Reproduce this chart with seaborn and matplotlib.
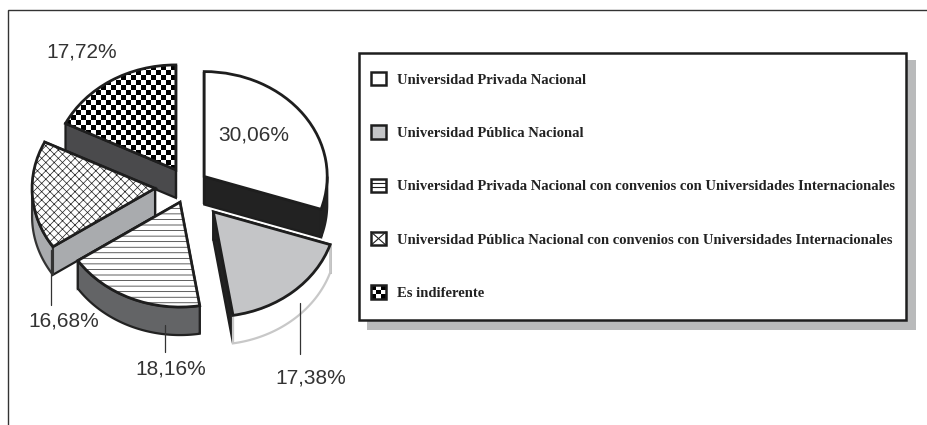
import numpy as np
import matplotlib
matplotlib.use("Agg")
import matplotlib.pyplot as plt
from matplotlib.lines import Line2D
from matplotlib.patches import Patch, Polygon, Rectangle
from matplotlib.legend_handler import HandlerBase
import seaborn as sns

categories = [
    "Universidad Privada Nacional",
    "Universidad Pública Nacional",
    "Universidad Privada Nacional con convenios con Universidades Internacionales",
    "Universidad Pública Nacional con convenios con Universidades Internacionales",
    "Es indiferente",
]
values = [30.06, 17.38, 18.16, 16.68, 17.72]
explode = [20, 39, 20, 33, 23]

face_colors = ["#ffffff", "#c4c5c7", "#ffffff", "#ffffff", "#ffffff"]
hatches = [None, None, "---", "xxxx", None]
swatch_kinds = ["plain", "plain", "lines", "cross", "checker"]
face_colors_side = ["#222222", "#222222", "#636466", "#a9abae", "#4a4a4c"]
arc_colors = ["#222222", "#ffffff", "#636466", "#a9abae", "#4a4a4c"]
arc_edges = ["#222222", "#c8c8c8", "#222222", "#333333", "#222222"]
draw_order = [50, 40, 30, 20, 10]

W, H = 927, 425
tilt = 0.853
radius = 123
depth = 28 / tilt
dark = "#1e1e1e"

sns.set_theme(style="white")
plt.rcParams["hatch.linewidth"] = 0.5
palette = sns.color_palette(face_colors)


class SwatchHandler(HandlerBase):
    def __init__(self, kind):
        super().__init__()
        self.kind = kind

    def create_artists(self, legend, orig, xd, yd, w, h, fontsize, trans):
        x0, y0 = -xd, -yd
        line = dict(transform=trans, color=dark, linewidth=0.8)
        out = [Rectangle((x0, y0), w, h, facecolor=orig.get_facecolor(),
                         edgecolor="none", transform=trans)]
        if self.kind == "lines":
            for f in (1 / 3, 2 / 3):
                out.append(Line2D([x0, x0 + w], [y0 + f * h] * 2, **line))
        elif self.kind == "cross":
            out.append(Line2D([x0, x0 + w], [y0, y0 + h], **line))
            out.append(Line2D([x0, x0 + w], [y0 + h, y0], **line))
        elif self.kind == "checker":
            out[0].set_facecolor("black")
            for cx, cy in [(1, 0), (0, 1), (2, 1), (1, 2)]:
                out.append(Rectangle((x0 + cx * w / 3, y0 + cy * h / 3), w / 3, h / 3,
                                     facecolor="white", edgecolor="none", transform=trans))
        # frame goes last so the white cells do not eat it
        out.append(Rectangle((x0, y0), w, h, fill=False, edgecolor=dark, linewidth=1.8,
                             transform=trans))
        return out


fig = plt.figure(figsize=(W / 100, H / 100), dpi=100, facecolor="white")

# pie axes: x in pixels, y stretched so the circle comes out as a tilted ellipse
ax = fig.add_axes([0, 0, 1, 1])
wedges, _ = ax.pie(values, explode=explode, startangle=90, counterclock=False,
                   radius=radius, center=(188, (H - 186.5) / tilt), colors=palette,
                   wedgeprops=dict(edgecolor=dark, linewidth=2.0))
ax.set_aspect("auto")
ax.set_xlim(0, W)
ax.set_ylim(0, H / tilt)
ax.axis("off")


def rim(w, t):
    return w.center[0] + w.r * np.cos(np.radians(t)), w.center[1] + w.r * np.sin(np.radians(t))


for i, w in enumerate(wedges):
    z = draw_order[i]
    w.set_zorder(z + 2)
    if hatches[i]:
        w.set_hatch(hatches[i])

    # radial faces of the slice
    cx, cy = w.center
    for t in (w.theta1, w.theta2):
        x, y = rim(w, t)
        ax.add_patch(Polygon([(cx, cy), (x, y), (x, y - depth), (cx, cy - depth)],
                             facecolor=face_colors_side[i], edgecolor=dark,
                             linewidth=1.6, zorder=z))

    # outer wall, only the lower half of the ellipse can be seen
    t = np.linspace(w.theta1, w.theta2, 120)
    t = t[np.sin(np.radians(t)) <= 0]
    if len(t) > 1:
        xs, ys = rim(w, t)
        pts = np.r_[np.c_[xs, ys], np.c_[xs, ys - depth][::-1]]
        ax.add_patch(Polygon(pts, facecolor=arc_colors[i], edgecolor=arc_edges[i],
                             linewidth=1.6, zorder=z + 1))

# checkerboard slice, matplotlib has no hatch for it
cells = 26
check = np.indices((cells, cells)).sum(axis=0) % 2
last = wedges[4]
last.set_facecolor("none")
cell = 5
x0, y0 = round(last.center[0]) - cell * 24, (round(last.center[1] * tilt) - cell * 2) / tilt
img = ax.imshow(check, cmap="gray", vmin=0, vmax=1, interpolation="nearest", aspect="auto",
                extent=(x0, x0 + cell * cells, y0, y0 + cell * cells / tilt),
                zorder=draw_order[4] + 1.5)
img.set_clip_path(last)
ax.set_xlim(0, W)
ax.set_ylim(0, H / tilt)

# overlay in plain pixels for frame, legend and labels
ov = fig.add_axes([0, 0, 1, 1], zorder=5)
ov.set_xlim(0, W)
ov.set_ylim(H, 0)
ov.axis("off")
ov.patch.set_alpha(0)

ov.plot([8, 8, W], [H, 10, 10], color="#333333", lw=1.0, solid_joinstyle="miter")
ov.add_patch(Rectangle((367, 60), 549, 270, facecolor="#b9babb", edgecolor="none"))
ov.add_patch(Rectangle((359, 53), 547, 267, facecolor="white", edgecolor=dark, linewidth=1.8))

handles = [Patch(facecolor=palette[i]) for i in range(5)]
ov.legend(handles, categories, loc="upper left", bbox_to_anchor=(371, 72),
          bbox_transform=ov.transData, frameon=False, borderpad=0, borderaxespad=0,
          labelspacing=2.65, handlelength=1.03, handleheight=1.03, handletextpad=0.75,
          labelcolor="#222222",
          handler_map={h: SwatchHandler(k) for h, k in zip(handles, swatch_kinds)},
          prop=dict(family="Liberation Serif", weight="bold", size=10.5))

label_pos = [(254, 135), (311, 378), (171, 369), (64, 321), (82, 52)]
leader_tip = [None, (300, 303), (165, 325), (51, 250), None]
leader_end = [None, (300, 354), (165, 352), (51, 305), None]

for i, v in enumerate(values):
    txt = f"{v:.2f}%".replace(".", ",")
    ov.text(label_pos[i][0], label_pos[i][1], txt, ha="center", va="center",
            family="Liberation Sans", fontsize=15, color="#333333")
    if leader_tip[i]:
        ov.plot([leader_tip[i][0], leader_end[i][0]], [leader_tip[i][1], leader_end[i][1]],
                color="#333333", lw=0.9)

fig.savefig("out.png", dpi=100)
